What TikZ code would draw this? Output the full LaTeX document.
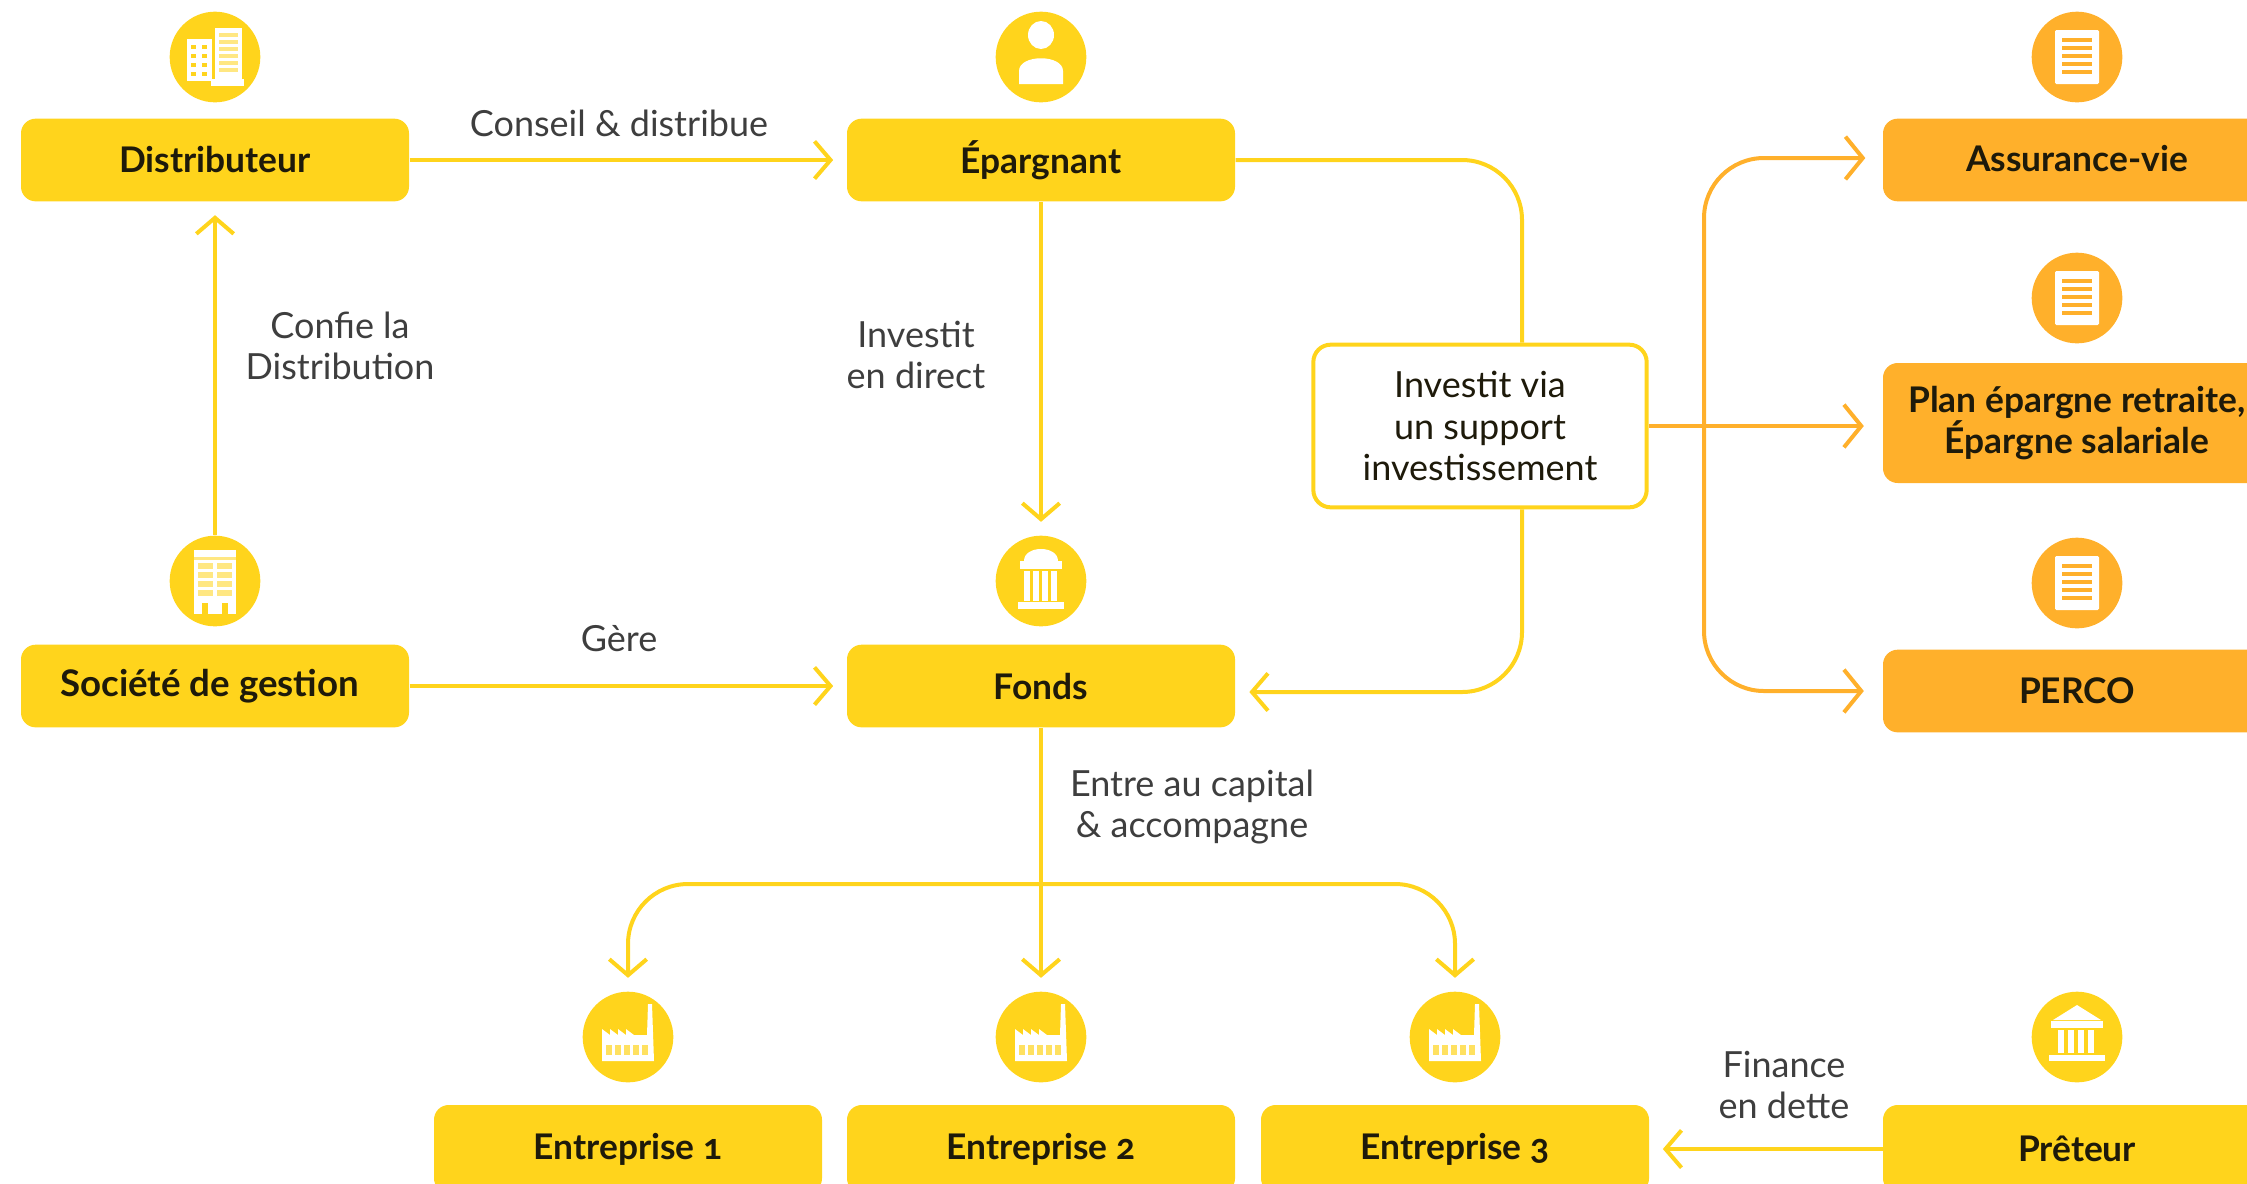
\documentclass[tikz,border=0pt]{standalone}
\usepackage{fontspec}
\setmainfont[Numbers=OldStyle]{Lato}
\usetikzlibrary{arrows.meta}

\definecolor{mainYellow}{RGB}{255,212,28}
\definecolor{mainOrange}{RGB}{255,176,43}
\definecolor{labelGrey}{RGB}{62,62,62}
\definecolor{boxInk}{RGB}{30,26,10}

\tikzset{every picture/.style={line width=0.75pt}}
\tikzset{
	boxYellow/.style={fill=mainYellow,rounded corners=11pt,minimum width=291pt,minimum height=62pt,inner sep=0pt,align=center,text=boxInk,font=\fontsize{26.5}{31}\selectfont\bfseries},
	boxOrange/.style={boxYellow,fill=mainOrange},
	boxSupport/.style={draw=mainYellow,fill=white,line width=3pt,rounded corners=13pt,minimum width=250pt,minimum height=122pt,inner sep=0pt,align=center,text=boxInk,font=\fontsize{27}{31}\selectfont},
	labelText/.style={align=center,text=labelGrey,font=\fontsize{27}{31}\selectfont},
	iconDisc/.style={circle,fill=mainYellow,minimum size=68pt,inner sep=0pt},
	iconDiscOrange/.style={iconDisc,fill=mainOrange},
	flowYellow/.style={draw=mainYellow,line width=3pt,rounded corners=45pt,-{Straight Barb[length=12pt,width=28pt,line width=3pt]},shorten >=10pt},
	flowOrange/.style={flowYellow,draw=mainOrange,shorten >=14pt,-{Straight Barb[length=13pt,width=32pt,line width=3pt]}},
	plainYellow/.style={draw=mainYellow,line width=3pt,rounded corners=45pt},
	officeIcon/.pic={
		\fill[white] (-28,-18) rectangle (-3,24);
		\fill[white] (0,-29) rectangle (27,22);
		\fill[white] (-4,22) rectangle (29,29);
		\foreach \wy in {-12,-3,6,15} {\fill[mainYellow] (-24,\wy) rectangle (-19,\wy+4); \fill[mainYellow] (-13,\wy) rectangle (-8,\wy+4);}
		\foreach \wy in {-24,-17,-10,-3,4,11} {\fill[mainYellow!55] (4,\wy) rectangle (23,\wy+4);}
	},
	personIcon/.pic={
		\fill[white] (0,-22) ellipse (13 and 14);
		\fill[white] (-22,27) -- (-22,14) .. controls (-22,-3) and (22,-3) .. (22,14) -- (22,27) -- cycle;
	},
	towerIcon/.pic={
		\fill[white] (-21,-31) rectangle (21,33);
		\fill[mainYellow!55] (-21,-24) rectangle (21,-21);
		\foreach \wy in {-18,-9,0,9} {\fill[mainYellow!55] (-17,\wy) rectangle (-2,\wy+6); \fill[mainYellow!55] (2,\wy) rectangle (17,\wy+6);}
		\fill[mainYellow] (-13,22) rectangle (-7,33); \fill[mainYellow] (7,22) rectangle (13,33);
	},
	domeIcon/.pic={
		\fill[white] (-17,-20) .. controls (-17,-36) and (17,-36) .. (17,-20) -- cycle;
		\fill[white] (-21,-20) rectangle (21,-12);
		\foreach \wx in {-17,-8,1,10} {\fill[white] (\wx,-10) rectangle (\wx+6,20);}
		\fill[white] (-23,21) rectangle (23,28);
	},
	bankIcon/.pic={
		\fill[white] (-24,-17) -- (0,-32) -- (24,-17) -- cycle;
		\fill[white] (-26,-16) rectangle (26,-9);
		\foreach \wx in {-19,-9,1,11} {\fill[white] (\wx,-7) rectangle (\wx+6,16);}
		\fill[white] (-28,18) rectangle (28,24);
	},
	factoryIcon/.pic={
		\fill[white] (-26,24) -- (-26,-8) -- (-18,-2) -- (-18,-8) -- (-10,-2) -- (-10,-8) -- (-2,-2) -- (-2,-8) -- (6,-2) -- (19,-2) -- (20,-33) -- (24,-33) -- (26,24) -- cycle;
		\foreach \wx in {-22,-13,-4,5,14} {\fill[mainYellow!70] (\wx,8) rectangle (\wx+6,18);}
	},
	docIcon/.pic={
		\fill[white,rounded corners=1pt] (-22,-27) rectangle (22,27);
		\foreach \wy in {-19,-11,-3,5,13} {\fill[mainOrange] (-15,\wy) rectangle (15,\wy+4);}
	}
}

\begin{document}
\begin{tikzpicture}[x=0.75pt,y=0.75pt,yscale=-1,xscale=1]
	\useasboundingbox (0,0) rectangle (2247,1183);

	% Boxes
	\node[boxYellow] (distributeur) at (215,160) {Distributeur};
	\node[boxYellow] (epargnant) at (1041,160) {Épargnant};
	\node[boxYellow] (gestion) at (215,686) {\fontsize{27.5}{31}\selectfont Société de gestion\hspace*{8pt}};
	\node[boxYellow] (fonds) at (1041,686) {Fonds};
	\node[boxYellow,minimum height=66pt] (entreprise1) at (628,1149) {Entreprise 1};
	\node[boxYellow,minimum height=66pt] (entreprise2) at (1041,1149) {Entreprise 2};
	\node[boxYellow,minimum height=66pt] (entreprise3) at (1455,1149) {Entreprise 3};
	\node[boxYellow,minimum height=66pt] (preteur) at (2077,1149) {Prêteur};
	\node[boxOrange] (assurance) at (2077,160) {\raisebox{3pt}{Assurance-vie}};
	\node[boxOrange,minimum height=90pt] (plan) at (2077,423) {\raisebox{-3pt}{Plan épargne retraite,}\\\raisebox{-3pt}{Épargne salariale}};
	\node[boxOrange] (perco) at (2077,691) {PERCO};
	\node[boxSupport] (support) at (1480,426) {Investit via\\un support\\investissement};

	% Icons
	\node[iconDisc] (iconDistributeur) at (215,57) {};
	\pic[transform shape] at (iconDistributeur) {officeIcon};
	\node[iconDisc] (iconEpargnant) at (1041,57) {};
	\pic[transform shape] at (iconEpargnant) {personIcon};
	\node[iconDisc] (iconGestion) at (215,581) {};
	\pic[transform shape] at (iconGestion) {towerIcon};
	\node[iconDisc] (iconFonds) at (1041,581) {};
	\pic[transform shape] at (iconFonds) {domeIcon};
	\node[iconDisc] (iconEntreprise1) at (628,1037) {};
	\pic[transform shape] at (iconEntreprise1) {factoryIcon};
	\node[iconDisc] (iconEntreprise2) at (1041,1037) {};
	\pic[transform shape] at (iconEntreprise2) {factoryIcon};
	\node[iconDisc] (iconEntreprise3) at (1455,1037) {};
	\pic[transform shape] at (iconEntreprise3) {factoryIcon};
	\node[iconDisc] (iconPreteur) at (2077,1037) {};
	\pic[transform shape] at (iconPreteur) {bankIcon};
	\node[iconDiscOrange] (iconAssurance) at (2077,57) {};
	\pic[transform shape] at (iconAssurance) {docIcon};
	\node[iconDiscOrange] (iconPlan) at (2077,298) {};
	\pic[transform shape] at (iconPlan) {docIcon};
	\node[iconDiscOrange] (iconPerco) at (2077,583) {};
	\pic[transform shape] at (iconPerco) {docIcon};

	% Turning points
	\coordinate (turnTop) at (1522,160);
	\coordinate (turnBottom) at (1522,692);
	\coordinate (fondsIn) at (1236,692);
	\coordinate (splitOrange) at (1704,426);
	\coordinate (assuranceIn) at (1884,158);
	\coordinate (splitFonds) at (1041,884);

	%Straight Lines
	\draw[flowYellow] (distributeur) -- (epargnant);
	\draw[flowYellow] (gestion) -- (fonds);
	\draw[flowYellow] (iconGestion) -- (distributeur);
	\draw[flowYellow] (epargnant) -- (iconFonds);
	\draw[flowYellow] (fonds) -- (iconEntreprise2);
	\draw[flowYellow] (preteur) -- (entreprise3);
	\draw[flowOrange] (support.east) -- (support.east -| plan.west);

	%Elbow Lines
	\draw[plainYellow] (epargnant) -- (turnTop) -- (turnTop |- support.north);
	\draw[flowYellow] (turnTop |- support.south) -- (turnBottom) -- (fondsIn);
	\draw[flowOrange] (splitOrange) -- (splitOrange |- assuranceIn) -- (assuranceIn);
	\draw[flowOrange] (splitOrange) -- (splitOrange |- perco) -- (perco);
	\draw[flowYellow] (splitFonds) -- (iconEntreprise1 |- splitFonds) -- (iconEntreprise1);
	\draw[flowYellow] (splitFonds) -- (iconEntreprise3 |- splitFonds) -- (iconEntreprise3);

	% Text Node
	\node[labelText] (labelConseil) at (619,123) {Conseil \& distribue};
	% Text Node
	\node[labelText] (labelConfie) at (340,346) {Confie la\\Distribution};
	% Text Node
	\node[labelText] (labelDirect) at (916,355) {Investit\\en direct};
	% Text Node
	\node[labelText] (labelGere) at (619,639) {Gère};
	% Text Node
	\node[labelText] (labelCapital) at (1192,807) {Entre au capital\\\& accompagne};
	% Text Node
	\node[labelText] (labelDette) at (1784,1085) {Finance\\en dette};
\end{tikzpicture}
\end{document}
